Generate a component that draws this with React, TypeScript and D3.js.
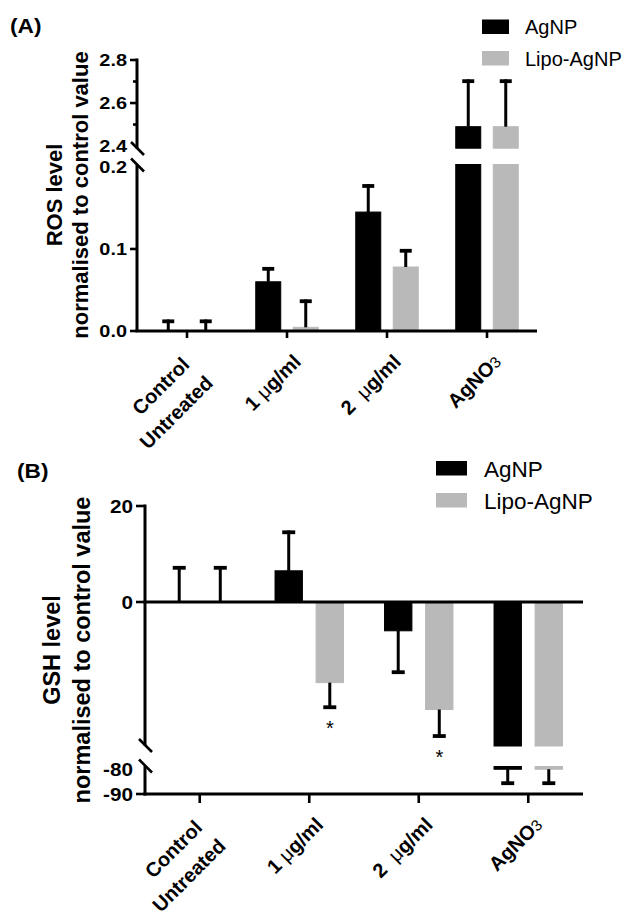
import React from "react";
import * as d3 from "d3";

// ---------- shared ----------
const categories = ["Control Untreated", "1 µg/ml", "2 µg/ml", "AgNO3"];
const categoryLines = [["Control", "Untreated"], ["1 µg/ml"], ["2  µg/ml"], ["AgNO3"]];
const seriesNames = ["AgNP", "Lipo-AgNP"];
const seriesColors = ["#000000", "#b9b9b9"];

// ---------- Panel A : ROS ----------
const rosAgNP = [0, 0.06, 0.145, 2.49];
const rosAgNPErr = [0.014, 0.018, 0.034, 0.22];
const rosLipo = [0, 0.0045, 0.078, 2.49];
const rosLipoErr = [0.014, 0.034, 0.022, 0.22];
const rosMajorTicks = [0, 0.1, 2.6, 2.8];
const rosMinorTicks = [2.5, 2.7];
const rosBreakLabels = [0.2, 2.4];
const rosTitle = ["ROS level", "normalised to control value"];

// ---------- Panel B : GSH ----------
const gshAgNP = [0, 6.5, -6.0, -80.1];
const gshAgNPErr = [7.5, 8.4, 9.0, 6.3];
const gshLipo = [0, -16.8, -22.4, -80.1];
const gshLipoErr = [7.5, 5.5, 5.9, 6.3];
const gshAgNPSig = ["", "", "", ""];
const gshLipoSig = ["", "*", "*", ""];
const gshMajorTicks = [20, 0, -90];
const gshMinorTicks: number[] = [];
const gshBreakLabels = [-80];
const gshTitle = ["GSH level", "normalised to control value"];

const FONT = "'Liberation Sans', Arial, Helvetica, sans-serif";
const XFS = 20;
const CAP = XFS * 0.716;

function LabelLine({ text, x, y, fs }: any) {
  const mu = text.indexOf("µ");
  const sub = text.match(/^([A-Za-z]+)(\d)$/);
  const common = { x, y, textAnchor: "end", fontSize: fs, fontWeight: "bold", fontFamily: FONT, style: { whiteSpace: "pre" } };
  if (mu >= 0) {
    return (
      <text {...common}>
        <tspan>{text.slice(0, mu)}</tspan>
        <tspan fontWeight="normal">μ</tspan>
        <tspan>{text.slice(mu + 1)}</tspan>
      </text>
    );
  }
  if (sub) {
    return (
      <text {...common}>
        <tspan>{sub[1]}</tspan>
        <tspan fontWeight="normal" fontSize={fs * 0.78} dy={0}>{sub[2]}</tspan>
      </text>
    );
  }
  return <text {...common}>{text}</text>;
}

function Panel(p: any) {
  const x0 = d3.scaleBand().domain(categories).range(p.xRange).padding(0);
  const bw = x0.bandwidth();
  const x1 = d3.scaleBand().domain(seriesNames).range([0.1875 * bw, 0.8125 * bw]).paddingInner(1 / 3);
  const scales = p.segs.map((s: any) => d3.scaleLinear().domain(s.domain).range(s.range));
  const segOf = (v: number) =>
    scales.find((s: any) => v >= s.domain()[0] - 1e-9 && v <= s.domain()[1] + 1e-9) || scales[0];
  const yAt = (v: number) => segOf(v)(v);
  const ax = p.xRange[0];
  const series = [
    { name: seriesNames[0], vals: p.a, errs: p.aErr, sig: p.aSig, color: seriesColors[0] },
    { name: seriesNames[1], vals: p.b, errs: p.bErr, sig: p.bSig, color: seriesColors[1] },
  ];
  const fs = p.tickFs;
  const tl = (t: number, key: string) => (
    <text key={key} transform={`translate(${ax - p.tickLen - 3},${yAt(t)}) scale(${p.tickSx},1)`} dy="0.36em"
      textAnchor="end" fontSize={fs} fontWeight="bold" fontFamily={FONT}>{p.fmt(t)}</text>
  );
  return (
    <g>
      {/* panel letter */}
      <text transform={`translate(${p.letter[1]},${p.letter[2]}) scale(1.08,1)`} fontSize={21} fontWeight="bold" fontFamily={FONT}>{p.letter[0]}</text>

      {/* bars */}
      {series.map((s, si) =>
        categories.map((c, ci) => {
          const v = s.vals[ci];
          const bx = (x0(c) as number) + (x1(s.name) as number);
          return scales.map((sc: any, k: number) => {
            const [d0, d1] = sc.domain();
            const lo = Math.max(d0, Math.min(0, v));
            const hi = Math.min(d1, Math.max(0, v));
            if (hi <= lo) return null;
            return (
              <rect key={`${si}-${ci}-${k}`} x={bx} width={x1.bandwidth()} y={sc(hi)} height={sc(lo) - sc(hi)}
                fill={s.color} stroke={s.color} strokeWidth={1} />
            );
          });
        })
      )}

      {/* error bars */}
      {series.map((s, si) =>
        categories.map((c, ci) => {
          const v = s.vals[ci];
          const e = s.errs[ci];
          const end = v >= 0 ? v + e : v - e;
          const cx = (x0(c) as number) + (x1(s.name) as number) + x1.bandwidth() / 2;
          const sc = segOf(v);
          const y0 = sc(v);
          const y1 = sc(end);
          const capHalf = p.capW / 2;
          const dir = v >= 0 ? 1 : -1;
          return (
            <g key={`e${si}-${ci}`}>
              <line x1={cx} x2={cx} y1={y0} y2={y1} stroke="#000" strokeWidth={3} />
              <line x1={cx - capHalf} x2={cx + capHalf} y1={y1 + dir * 1.8} y2={y1 + dir * 1.8} stroke="#000" strokeWidth={3.8} />
              {s.sig && s.sig[ci] ? (
                <text x={cx} y={y1 + 26} textAnchor="middle" fontSize={20} fontFamily={FONT}>{s.sig[ci]}</text>
              ) : null}
            </g>
          );
        })
      )}

      {/* y axis segments */}
      {p.axisSegs.map((sg: number[], i: number) => (
        <line key={`ya${i}`} x1={ax} x2={ax} y1={sg[0]} y2={sg[1]} stroke="#000" strokeWidth={3} />
      ))}
      {/* break slashes */}
      {p.slashes.map((y: number, i: number) => (
        <line key={`sl${i}`} x1={ax - 6} x2={ax + 7} y1={y - 6.5} y2={y + 6.5} stroke="#000" strokeWidth={2.6} />
      ))}
      {/* ticks */}
      {p.major.map((t: number) => (
        <g key={`mt${t}`}>
          <line x1={ax - p.tickLen} x2={ax} y1={yAt(t)} y2={yAt(t)} stroke="#000" strokeWidth={2.6} />
          {tl(t, `mtl${t}`)}
        </g>
      ))}
      {p.minor.map((t: number) => (
        <line key={`mn${t}`} x1={ax - 4} x2={ax} y1={yAt(t)} y2={yAt(t)} stroke="#000" strokeWidth={2.6} />
      ))}
      {p.breakLabels.map((t: number) => tl(t, `bl${t}`))}

      {/* zero line and bottom axis */}
      {p.zeroY !== p.axisY ? (
        <line x1={ax - 1.5} x2={p.xRange[1]} y1={p.zeroY} y2={p.zeroY} stroke="#000" strokeWidth={3} />
      ) : null}
      <line x1={ax - 1.5} x2={p.xRange[1]} y1={p.axisY} y2={p.axisY} stroke="#000" strokeWidth={3} />
      {categories.map((c, ci) => {
        const tx = (x0(c) as number) + bw / 2;
        const lines = categoryLines[ci];
        return (
          <g key={`xt${ci}`}>
            <line x1={tx} x2={tx} y1={p.axisY} y2={p.axisY + p.tickLen} stroke="#000" strokeWidth={2.6} />
            <g transform={`translate(${tx},${p.axisY}) rotate(-45)`}>
              {lines.length === 1 ? (
                <LabelLine text={lines[0]} x={-12} y={19 + CAP} fs={XFS} />
              ) : (
                <>
                  <LabelLine text={lines[0]} x={-22} y={13 + CAP} fs={XFS} />
                  <LabelLine text={lines[1]} x={-18.5} y={42.5 + CAP} fs={XFS} />
                </>
              )}
            </g>
          </g>
        );
      })}

      {/* y title */}
      {p.title.map((t: string, i: number) => (
        <text key={`tt${i}`} transform={`translate(${p.titleX[i]},${p.titleCy}) rotate(-90)`} textAnchor="middle"
          fontSize={p.titleFs} fontWeight="bold" fontFamily={FONT}>{t}</text>
      ))}

      {/* legend */}
      {series.map((s, i) => (
        <g key={`lg${i}`}>
          <rect x={p.legend.x} y={p.legend.ys[i]} width={p.legend.w} height={p.legend.h} fill={s.color} />
          <text x={p.legend.tx} y={p.legend.tys[i]} fontSize={p.legend.fs} fontFamily={FONT}>{s.name}</text>
        </g>
      ))}
    </g>
  );
}

export default function App() {
  return (
    <svg width={632} height={917} style={{ position: "absolute", left: 0, top: 0, background: "#fff" }}>
      <rect width={632} height={917} fill="#fff" />
      <Panel
        letter={["(A)", 10, 33]}
        xRange={[137, 537]}
        axisY={331}
        zeroY={331}
        segs={[
          { domain: [0, 0.203], range: [331, 164.5] },
          { domain: [2.39, 2.8], range: [148.2, 60] },
        ]}
        axisSegs={[[332, 165], [148.5, 58.5]]}
        slashes={[148.5, 165]}
        a={rosAgNP} aErr={rosAgNPErr} b={rosLipo} bErr={rosLipoErr}
        aSig={null} bSig={null}
        major={rosMajorTicks} minor={rosMinorTicks} breakLabels={rosBreakLabels}
        fmt={d3.format(".1f")}
        tickFs={17}
        tickSx={1.17}
        tickLen={7}
        capW={12}
        title={rosTitle}
        titleX={[62, 88]}
        titleCy={195}
        titleFs={22}
        legend={{ x: 482, w: 27, h: 14.5, ys: [19.5, 51], tx: 525, tys: [34, 66], fs: 20 }}
      />
      <Panel
        letter={["(B)", 17, 478]}
        xRange={[145, 583]}
        axisY={794}
        zeroY={602}
        segs={[
          { domain: [-90, -79], range: [794, 766.5] },
          { domain: [-30, 20], range: [746, 506] },
        ]}
        axisSegs={[[795.5, 766], [745.5, 504.5]]}
        slashes={[745.5, 766]}
        a={gshAgNP} aErr={gshAgNPErr} b={gshLipo} bErr={gshLipoErr}
        aSig={gshAgNPSig} bSig={gshLipoSig}
        major={gshMajorTicks} minor={gshMinorTicks} breakLabels={gshBreakLabels}
        fmt={(v: number) => String(v)}
        tickFs={18.5}
        tickSx={1.12}
        tickLen={9}
        capW={13}
        title={gshTitle}
        titleX={[60, 89.5]}
        titleCy={650}
        titleFs={23.5}
        legend={{ x: 436, w: 31, h: 14.5, ys: [461, 493], tx: 484, tys: [477, 509], fs: 22.5 }}
      />
    </svg>
  );
}
